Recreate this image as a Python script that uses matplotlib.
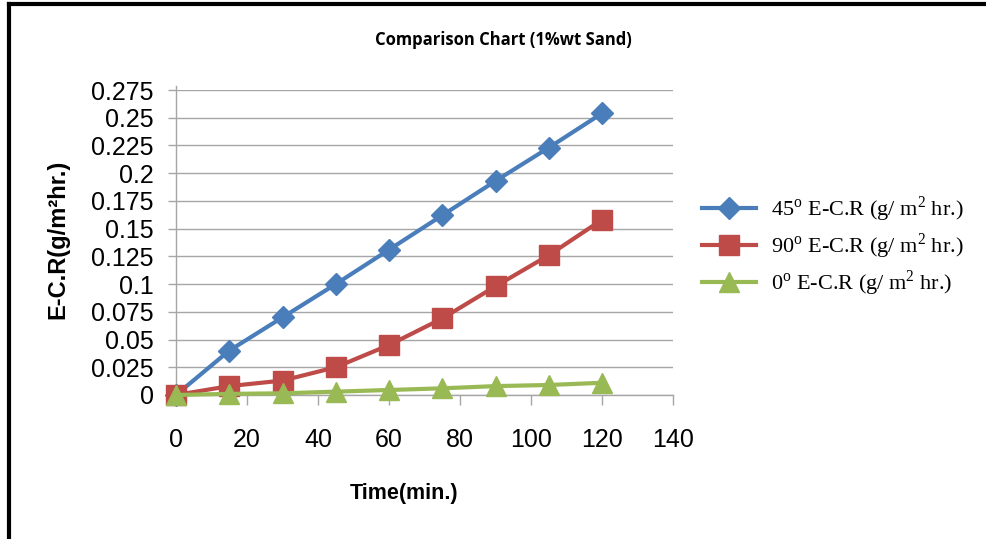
import matplotlib
matplotlib.use("Agg")
from matplotlib import pyplot as plt
from matplotlib.lines import Line2D
import numpy as np

# czas pomiaru (min)
time_min = [0, 15, 30, 45, 60, 75, 90, 105, 120]

# szybkosc erozji-korozji (g/m2 hr)
ecr_45 = [0, 0.040, 0.070, 0.100, 0.131, 0.162, 0.193, 0.223, 0.254]
ecr_90 = [0, 0.008, 0.013, 0.025, 0.045, 0.069, 0.098, 0.126, 0.158]
ecr_0 = [0, 0.001, 0.0015, 0.003, 0.0045, 0.006, 0.008, 0.009, 0.011]

labels = [r"45$^{\mathrm{o}}$ E-C.R (g/ m$^{2}$ hr.)",
          r"90$^{\mathrm{o}}$ E-C.R (g/ m$^{2}$ hr.)",
          r"0$^{\mathrm{o}}$ E-C.R (g/ m$^{2}$ hr.)"]

x_ticks = [0, 20, 40, 60, 80, 100, 120, 140]
y_ticks = [0, 0.025, 0.05, 0.075, 0.1, 0.125, 0.15, 0.175, 0.2, 0.225, 0.25, 0.275]
y_ticklabels = ["0", "0.025", "0.05", "0.075", "0.1", "0.125", "0.15",
                "0.175", "0.2", "0.225", "0.25", "0.275"]

plt.rcParams["mathtext.fontset"] = "custom"
plt.rcParams["mathtext.rm"] = "Liberation Serif"

fig = plt.figure(figsize=(9.86, 5.39), dpi=100)
ax = fig.add_axes([0.1785, 0.2672, 0.6826 - 0.1785, 0.833 - 0.2672])

ax.plot(time_min, ecr_45, color="#4A7EBB", lw=3, marker="D", markersize=11,
        label=labels[0], zorder=3, clip_on=False)
ax.plot(time_min, ecr_90, color="#BE4B48", lw=3, marker="s", markersize=14,
        label=labels[1], zorder=4, clip_on=False)
ax.plot(time_min, ecr_0, color="#98B954", lw=3, marker="^", markersize=14,
        label=labels[2], zorder=5, clip_on=False)

ax.set_xlim(0, 140)
ax.set_ylim(0, 0.275)
ax.set_xticks(x_ticks)
ax.set_yticks(y_ticks)
ax.set_yticklabels(y_ticklabels)
ax.yaxis.grid(True, color="#a6a6a6", lw=1)
ax.set_axisbelow(True)

for s in ["top", "right"]:
    ax.spines[s].set_visible(False)
for s in ["left", "bottom"]:
    ax.spines[s].set_color("#a6a6a6")
    ax.spines[s].set_linewidth(1)
ax.spines["left"].set_bounds(0, 0.279)
ax.tick_params(axis="both", color="#a6a6a6", width=1,
               labelsize=18, labelfontfamily="Liberation Sans")
ax.tick_params(axis="x", length=7, pad=17)
ax.tick_params(axis="y", length=6, pad=10)

fig.text(0.41, 0.085, "Time(min.)", ha="center", va="center",
         fontsize=15.5, fontweight="bold", family="Liberation Sans")
fig.text(0.059, 0.555, "E-C.R(g/m\u00b2hr.)", ha="center", va="center",
         rotation=90, fontsize=17, fontweight="bold", family="Liberation Sans")
fig.text(0.511, 0.925, "Comparison Chart (1%wt Sand)", ha="center", va="center",
         fontsize=12, fontweight="bold", family="Open Sans")

ax.legend(loc="upper left", bbox_to_anchor=(0.692, 0.677),
          bbox_transform=fig.transFigure, frameon=False,
          prop={"family": "Liberation Serif", "size": 16},
          handlelength=2.4, labelspacing=0.33, handletextpad=0.7)

# ramka wokol wykresu
fig.add_artist(Line2D([0.009, 1.0], [0.992, 0.992], color="black", lw=3,
                      transform=fig.transFigure))
fig.add_artist(Line2D([0.009, 0.009], [0.0, 0.992], color="black", lw=3,
                      transform=fig.transFigure))

fig.savefig("out.png", dpi=100)
